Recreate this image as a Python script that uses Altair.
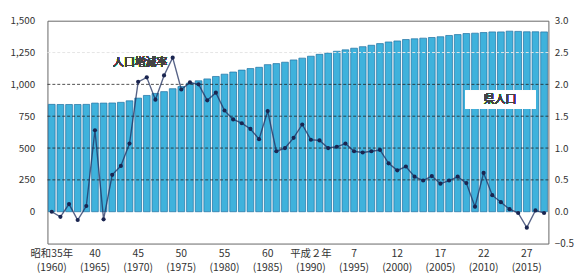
import altair as alt
import pandas as pd

years = list(range(1960, 2018))
population = [843, 842, 842, 842, 843, 853, 853, 854, 859, 871,
              892, 913, 929, 943, 966, 983, 1010, 1028, 1043, 1062,
              1080, 1097, 1112, 1124, 1134, 1155, 1163, 1174, 1192, 1206,
              1221, 1236, 1246, 1260, 1271, 1284, 1296, 1307, 1320, 1333,
              1341, 1352, 1358, 1363, 1368, 1374, 1384, 1391, 1399, 1402,
              1407, 1412, 1412, 1418, 1416, 1413, 1413, 1412]
rate = [0.00, -0.08, 0.12, -0.13, 0.09, 1.28, -0.12, 0.58, 0.72, 1.07,
        2.04, 2.11, 1.76, 2.14, 2.42, 1.92, 2.03, 2.00, 1.75, 1.87,
        1.59, 1.45, 1.39, 1.30, 1.14, 1.58, 0.95, 1.00, 1.16, 1.37,
        1.13, 1.12, 1.00, 1.02, 1.07, 0.95, 0.93, 0.95, 0.97, 0.76,
        0.65, 0.71, 0.55, 0.49, 0.56, 0.44, 0.49, 0.55, 0.45, 0.08,
        0.61, 0.26, 0.15, 0.04, -0.02, -0.25, 0.02, -0.02]

label_years = [1960, 1965, 1970, 1975, 1980, 1985, 1990, 1995, 2000, 2005, 2010, 2015]
label_era = ["昭和35年", "40", "45", "50", "55", "60", "平成２年", "7", "12", "17", "22", "27"]

left_ticks = [0, 250, 500, 750, 1000, 1250, 1500]
right_ticks = [-0.5, 0.0, 0.5, 1.0, 1.5, 2.0, 2.5, 3.0]
grid_dark = [250, 500, 750, 1000]
grid_faint = [1250]

assert len(years) == len(population) == len(rate)

df = pd.DataFrame({"year": years, "pop": population, "rate": rate})

FONT = "Noto Sans CJK JP"

expr = ""
for y, e in zip(label_years, label_era):
    expr += f"datum.value == {y} ? ['{e}', '({y})'] : "
expr += "''"

xenc = alt.X("year:O",
             scale=alt.Scale(paddingInner=0.22, paddingOuter=0.11),
             axis=alt.Axis(title=None, labelAngle=0, ticks=False, domain=False,
                           labelExpr=expr, labelPadding=5, labelFontSize=10.5,
                           labelLineHeight=14, labelColor="#333", labelFont=FONT,
                           labelBaseline="top", labelOverlap=False))

yleft = alt.Scale(domain=[-250, 1500], nice=False, zero=False)
yright = alt.Scale(domain=[-0.5, 3.0], nice=False, zero=False)

axis_left = alt.Axis(title=None, values=left_ticks,
                     labelExpr="format(datum.value, ',')",
                     grid=False, ticks=False, tickSize=0, domain=False,
                     labelPadding=13, labelOverlap=False,
                     labelFontSize=10, labelColor="#333", labelFont=FONT)
axis_right = alt.Axis(title=None, orient="right", values=right_ticks,
                      labelExpr="format(datum.value, '.1f')",
                      grid=False, ticks=False, tickSize=0, domain=False,
                      labelPadding=6, labelOverlap=False, labelFontSize=10,
                      labelColor="#333", labelFont=FONT)

bars = alt.Chart(df).mark_bar(color="#3fb2dc", stroke="#1f6fa0", strokeWidth=0.7).encode(
    x=xenc,
    y=alt.Y("pop:Q", scale=yleft, axis=axis_left),
)

gdf = pd.DataFrame({"v": grid_dark})
grid1 = alt.Chart(gdf).mark_rule(color="#222", strokeDash=[3, 2], strokeWidth=0.8).encode(
    y=alt.Y("v:Q", scale=yleft, axis=axis_left))
gdf2 = pd.DataFrame({"v": grid_faint})
grid2 = alt.Chart(gdf2).mark_rule(color="#e6e6e6", strokeDash=[3, 2], strokeWidth=1).encode(
    y=alt.Y("v:Q", scale=yleft, axis=axis_left))

left_layer = alt.layer(bars, grid1, grid2)

line = alt.Chart(df).mark_line(color="#1f2f5f", opacity=0.75, strokeWidth=1.4).encode(
    x=xenc,
    y=alt.Y("rate:Q", scale=yright, axis=axis_right),
)
pts = alt.Chart(df).mark_circle(color="#1a2550", size=18, opacity=1).encode(
    x=xenc, y=alt.Y("rate:Q", scale=yright, axis=axis_right))

right_layer = alt.layer(line, pts)

box = alt.Chart(df).mark_rect(fill="white").encode(
    x=alt.value(424), x2=alt.value(495), y=alt.value(71), y2=alt.value(89))
t1 = alt.Chart(df).mark_text(text="人口増減率", font=FONT, fontSize=11, fontWeight="normal",
                             color="#444").encode(x=alt.value(94), y=alt.value(43))
t2 = alt.Chart(df).mark_text(text="県人口", font=FONT, fontSize=11, fontWeight="normal",
                             color="#444").encode(x=alt.value(459), y=alt.value(80))

chart = alt.layer(left_layer, right_layer, box, t1, t2).resolve_scale(y="independent").properties(
    width=508, height=226,
    autosize=alt.AutoSizeParams(type="none"),
    padding={"left": 40, "top": 11, "right": 29, "bottom": 30},
).configure_view(stroke="#666", strokeWidth=1)

chart.save("out.html", embed_options={"renderer": "svg", "actions": False})
